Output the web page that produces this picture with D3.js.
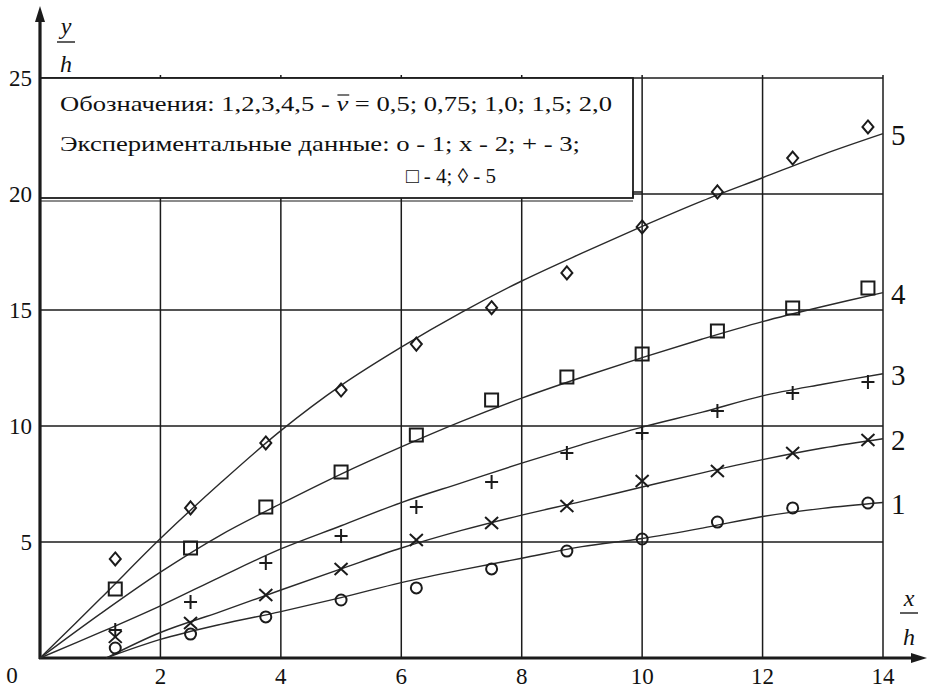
<!DOCTYPE html>
<html>
<head>
<meta charset="utf-8">
<script src="https://cdn.jsdelivr.net/npm/d3@7"></script>
<style>
	html, body {margin: 0; padding: 0; background: #fff}
	svg {display: block}
	svg text {font-family: "Liberation Serif", "Times New Roman", Tinos, Times, "DejaVu Serif", serif; fill: #111}
</style>
</head>
<body>
<svg width="928" height="689"></svg>
<script>
'use strict';
// experimental points, x/h positions shared by all five series
const pointX = [1.25, 2.5, 3.75, 5, 6.25, 7.5, 8.75, 10, 11.25, 12.5, 13.75]
const pts1 = [0.43, 1.03, 1.77, 2.5, 3.02, 3.84, 4.61, 5.13, 5.86, 6.47, 6.68]      // o
const pts2 = [0.91, 1.51, 2.72, 3.84, 5.09, 5.82, 6.55, 7.63, 8.06, 8.84, 9.4]      // x
const pts3 = [1.21, 2.41, 4.09, 5.26, 6.51, 7.59, 8.84, 9.7, 10.65, 11.42, 11.9]    // +
const pts4 = [2.97, 4.74, 6.51, 8.02, 9.61, 11.12, 12.11, 13.1, 14.09, 15.09, 15.95] // square
const pts5 = [4.27, 6.47, 9.27, 11.55, 13.53, 15.1, 16.6, 18.58, 20.09, 21.55, 22.89] // diamond

// calculated curves
const curveXa = [1.1, 2, 3, 4, 5, 6, 7, 8, 9, 10, 11, 12, 13, 14] // curves 1, 2
const curveXb = [0, 1, 2, 3, 4, 5, 6, 7, 8, 9, 10, 11, 12, 13, 14] // curves 3, 4, 5
const curve1 = [0, 0.8, 1.45, 2.0, 2.6, 3.25, 3.8, 4.3, 4.8, 5.15, 5.6, 6.1, 6.45, 6.7]
const curve2 = [0, 1.1, 2.0, 2.93, 3.84, 4.74, 5.5, 6.16, 6.75, 7.37, 7.98, 8.55, 9.05, 9.45]
const curve3 = [0, 1.1, 2.25, 3.5, 4.7, 5.7, 6.7, 7.55, 8.4, 9.2, 9.95, 10.6, 11.3, 11.8, 12.25]
const curve4 = [0, 1.9, 3.7, 5.3, 6.65, 7.93, 9.1, 10.2, 11.2, 12.1, 12.95, 13.75, 14.5, 15.15, 15.75]
const curve5 = [0, 2.55, 5.15, 7.55, 9.8, 11.75, 13.4, 14.9, 16.25, 17.45, 18.6, 19.7, 20.7, 21.7, 22.6]

const xTicks = [2, 4, 6, 8, 10, 12, 14]
const yTicks = [5, 10, 15, 20, 25]
const curveNames = ["1", "2", "3", "4", "5"]

const legendLine1a = "Обозначения: 1,2,3,4,5 - "
const legendLine1v = "v"
const legendLine1b = " = 0,5; 0,75; 1,0; 1,5; 2,0"
const legendLine2 = "Экспериментальные данные: о - 1; х - 2; + - 3;"
const legendLine3 = "\u25A1 - 4; \u25CA - 5"

let eSvg = d3.select("svg")
let ink = "#1b1b1b"
let serif = "'Liberation Serif', 'Times New Roman', Tinos, Times, 'DejaVu Serif', serif"

let x = d3.scaleLinear().domain([0, 14]).range([40, 883])
let y = d3.scaleLinear().domain([0, 25]).range([658, 78])

// grid
let gGrid = eSvg.append("g").attr("stroke", ink).attr("stroke-width", 1.5)
gGrid.selectAll("line.v").data(xTicks).enter().append("line")
	.attr("x1", d => x(d)).attr("x2", d => x(d))
	.attr("y1", y(0)).attr("y2", y(25) - 3)
gGrid.selectAll("line.h").data(yTicks).enter().append("line")
	.attr("x1", x(0)).attr("x2", x(14))
	.attr("y1", d => y(d)).attr("y2", d => y(d))

// legend box (drawn over the grid), with the doubled right edge
let boxR = 633, boxB = 198
eSvg.append("rect")
	.attr("x", x(0)).attr("y", y(25))
	.attr("width", boxR - x(0)).attr("height", boxB - y(25))
	.attr("fill", "#fff").attr("stroke", ink).attr("stroke-width", 1.8)
eSvg.append("line")
	.attr("x1", x(0)).attr("x2", boxR)
	.attr("y1", boxB + 3).attr("y2", boxB + 3)
	.attr("stroke", ink).attr("stroke-width", 1.2)
eSvg.append("path")
	.attr("d", `M${boxR},${boxB}V${boxB - 6}H${x(10)}`)
	.attr("fill", "none").attr("stroke", ink).attr("stroke-width", 1.5)

// axes, thick with arrows
let gAxis = eSvg.append("g")
gAxis.append("line").attr("x1", x(0)).attr("x2", x(0)).attr("y1", y(0) + 1).attr("y2", 14)
	.attr("stroke", ink).attr("stroke-width", 3.2)
gAxis.append("line").attr("x1", x(0) - 1).attr("x2", 918).attr("y1", y(0)).attr("y2", y(0))
	.attr("stroke", ink).attr("stroke-width", 3.2)
gAxis.append("path").attr("d", `M${x(0)},6L${x(0) - 5},22L${x(0) + 5},22Z`).attr("fill", ink)
gAxis.append("path").attr("d", `M927,${y(0)}L911,${y(0) - 5}L911,${y(0) + 5}Z`).attr("fill", ink)

// tick labels
eSvg.append("g").selectAll("text").data(xTicks).enter().append("text")
	.attr("x", d => x(d)).attr("y", 684)
	.attr("text-anchor", "middle").attr("font-size", 23).attr("font-family", serif)
	.text(d => d)
eSvg.append("g").selectAll("text").data(yTicks).enter().append("text")
	.attr("x", 32).attr("y", d => y(d) + 8)
	.attr("text-anchor", "end").attr("font-size", 23).attr("font-family", serif)
	.text(d => d)
eSvg.append("text").attr("x", 12).attr("y", 683)
	.attr("text-anchor", "middle").attr("font-size", 23).attr("font-family", serif).text("0")

// fraction labels y/h and x/h
function fraction(cx, topBase, barY, botBase, num) {
	let g = eSvg.append("g").attr("font-family", serif)
	g.append("text").attr("x", cx).attr("y", topBase).attr("text-anchor", "middle")
		.attr("font-size", 24).attr("font-style", "italic").text(num)
	g.append("line").attr("x1", cx - 9).attr("x2", cx + 9).attr("y1", barY).attr("y2", barY)
		.attr("stroke", ink).attr("stroke-width", 1.4)
	g.append("text").attr("x", cx).attr("y", botBase).attr("text-anchor", "middle")
		.attr("font-size", 24).attr("font-style", "italic").text("h")}
fraction(66, 34, 42, 72, "y")
fraction(909, 606, 613, 645, "x")

// legend text
let t1 = eSvg.append("text").attr("x", 60).attr("y", 111).attr("font-size", 21)
	.attr("font-family", serif)
	.attr("textLength", 552).attr("lengthAdjust", "spacingAndGlyphs")
t1.append("tspan").text(legendLine1a)
t1.append("tspan").attr("font-style", "italic").text(legendLine1v)
t1.append("tspan").text(legendLine1b)
let vBox = t1.node().getExtentOfChar(legendLine1a.length)
eSvg.append("line")
	.attr("x1", vBox.x + 1).attr("x2", vBox.x + vBox.width + 1)
	.attr("y1", 95).attr("y2", 95)
	.attr("stroke", ink).attr("stroke-width", 1.2)
eSvg.append("text").attr("x", 60).attr("y", 151).attr("font-size", 21)
	.attr("font-family", serif)
	.attr("textLength", 520).attr("lengthAdjust", "spacingAndGlyphs")
	.text(legendLine2)
eSvg.append("text").attr("x", 451).attr("y", 183).attr("font-size", 21)
	.attr("font-family", serif)
	.attr("text-anchor", "middle")
	.text(legendLine3)

// curves
let line = d3.line().x(d => x(d[0])).y(d => y(d[1])).curve(d3.curveCatmullRom)
let curves = [
	d3.zip(curveXa, curve1), d3.zip(curveXa, curve2),
	d3.zip(curveXb, curve3), d3.zip(curveXb, curve4), d3.zip(curveXb, curve5)]
eSvg.append("g").selectAll("path").data(curves).enter().append("path")
	.attr("d", line)
	.attr("fill", "none").attr("stroke", "#2a2a2a").attr("stroke-width", 1.4)

// curve numbers at the right
eSvg.append("g").selectAll("text").data(curves).enter().append("text")
	.attr("x", 891).attr("y", d => y(d[d.length - 1][1]) + 11)
	.attr("font-size", 29).attr("font-family", serif)
	.text((d, i) => curveNames[i])

// markers
let mk = {
	circle: "M5.5,0A5.5,5.5 0 1,1 -5.5,0A5.5,5.5 0 1,1 5.5,0Z",
	times: "M-6.5,-6L6.5,6M-6.5,6L6.5,-6",
	plus: "M-6.5,0H6.5M0,-7V7",
	square: "M-6.5,-6.5H6.5V6.5H-6.5Z",
	diamond: "M0,-6.5L5.5,0L0,6.5L-5.5,0Z"}
let series = [[pts1, mk.circle], [pts2, mk.times], [pts3, mk.plus], [pts4, mk.square], [pts5, mk.diamond]]
series.forEach(([vals, shape]) => {
	eSvg.append("g").selectAll("path").data(vals).enter().append("path")
		.attr("d", shape)
		.attr("transform", (d, i) => `translate(${x(pointX[i])},${y(d)})`)
		.attr("fill", "none").attr("stroke", ink).attr("stroke-width", 2)})
</script>
</body>
</html>
